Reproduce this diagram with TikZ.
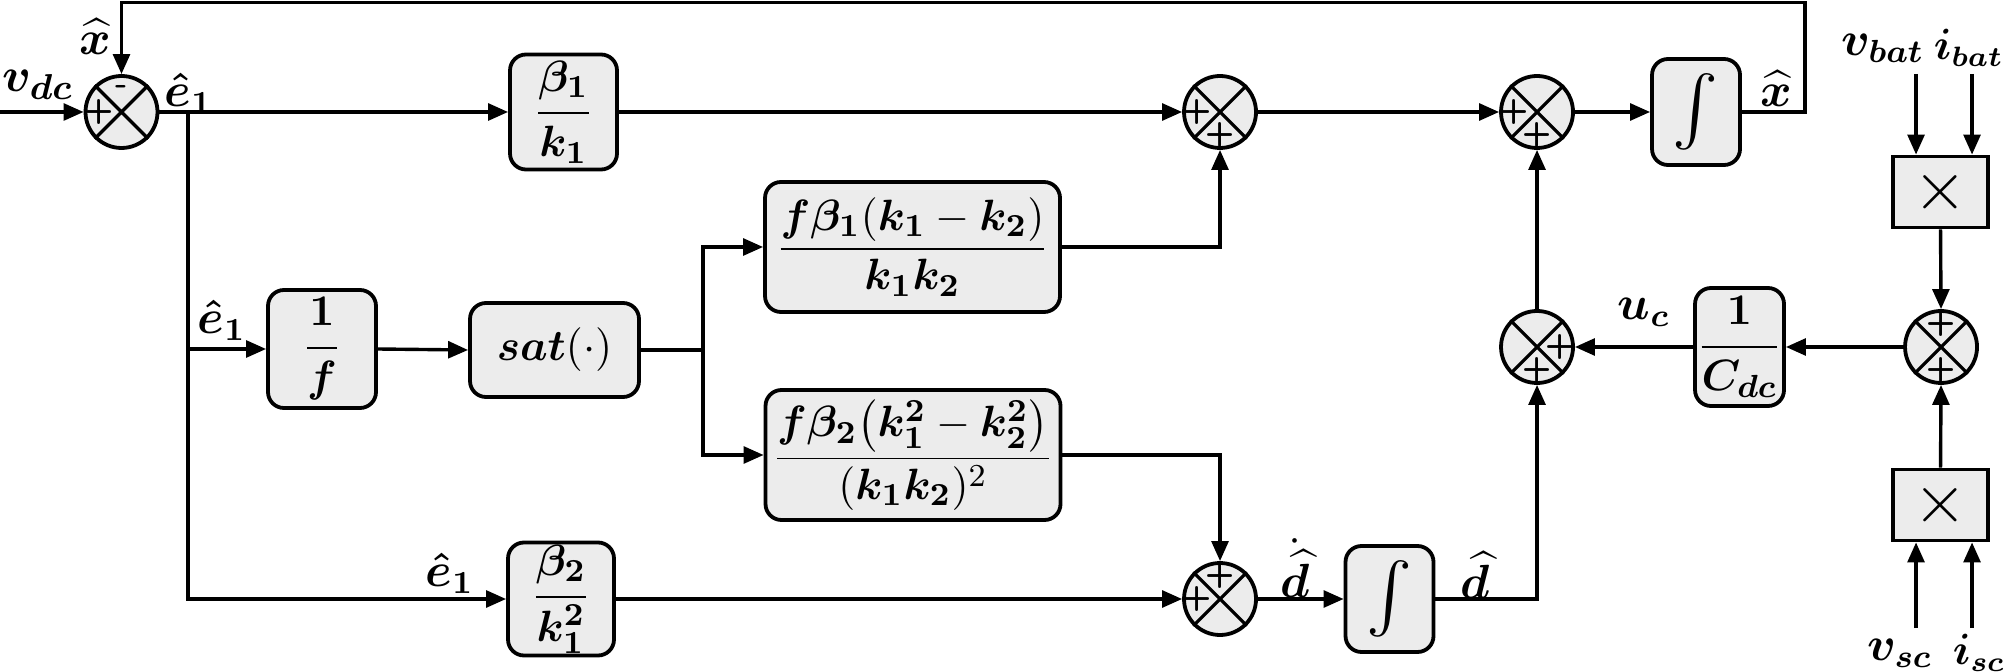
\documentclass[tikz,border=0pt]{standalone}
\usepackage{amsmath,bm}
\usetikzlibrary{arrows.meta,calc}
\definecolor{boxfill}{HTML}{ECECEC}
\tikzset{
 blk/.style={draw,line width=0.95pt,fill=boxfill,rounded corners=4pt,inner sep=0pt,font=\fontsize{11}{13}\selectfont},
 intblk/.style={blk,minimum width=22pt,minimum height=26.5pt,font=\fontsize{19}{21}\selectfont},
 mulbox/.style={draw,line width=0.95pt,fill=boxfill,inner sep=0pt,minimum width=23.75pt,minimum height=17.75pt,font=\fontsize{18}{18}\selectfont},
 sumc/.style={draw,circle,line width=0.95pt,fill=boxfill,minimum size=18pt,inner sep=0pt},
 wire/.style={line width=0.85pt},
 arr/.style={wire,-{Triangle[length=5pt,width=4.2pt]}},
 lbl/.style={font=\fontsize{12}{14}\selectfont,inner sep=0pt},
 biglbl/.style={font=\fontsize{11.5}{14}\selectfont,inner sep=0pt},
 ilbl/.style={font=\fontsize{10.5}{13}\selectfont,inner sep=0pt},
 sgn/.style={font=\fontsize{8.5}{9}\selectfont\bfseries\sffamily,inner sep=0pt},
}
\newcommand\sumjunc[2]{%
  \node[sumc] (#1) at (#2) {};
  \draw[line width=0.8pt] (#1.north east)--(#1.south west) (#1.north west)--(#1.south east);}
\begin{document}
\begin{tikzpicture}[x=0.25pt,y=-0.25pt]
\useasboundingbox (0,0) rectangle (2008,672);
% summing junctions
\sumjunc{s1}{121.5,112}
\sumjunc{s2}{1220,112}
\sumjunc{s3}{1537,112}
\sumjunc{s4}{1537,347}
\sumjunc{s5}{1220,599}
\sumjunc{s6}{1941,347}
% signs
\node[sgn] at ($(s1)+(-22,0)$) {+};
\node[sgn] at ($(s1)+(0,-22)$) {-};
\node[sgn] at ($(s2)+(-23,0)$) {+};
\node[sgn] at ($(s2)+(0,23)$) {+};
\node[sgn] at ($(s3)+(-23,0)$) {+};
\node[sgn] at ($(s3)+(0,23)$) {+};
\node[sgn] at ($(s4)+(23,0)$) {+};
\node[sgn] at ($(s4)+(0,23)$) {+};
\node[sgn] at ($(s5)+(-23,0)$) {+};
\node[sgn] at ($(s5)+(0,-23)$) {+};
\node[sgn] at ($(s6)+(0,-23)$) {+};
\node[sgn] at ($(s6)+(0,23)$) {+};
% blocks
\node[blk,minimum width=26.75pt,minimum height=28.75pt] (b1) at (563.5,112) {$\bm{\dfrac{\beta_1}{k_1}}$};
\node[blk,minimum width=27pt,minimum height=29.5pt] (f1) at (322,349) {$\bm{\dfrac{1}{f}}$};
\node[blk,minimum width=42.25pt,minimum height=23.5pt] (sat) at (554.5,350) {$\bm{sat}(\cdot)$};
\node[blk,minimum width=73.75pt,minimum height=32.5pt] (tm) at (912.5,247) {$\dfrac{\bm{f\beta_1}(\bm{k_1}-\bm{k_2})}{\bm{k_1k_2}}$};
\node[blk,minimum width=73.75pt,minimum height=32.5pt] (lm) at (913,455) {$\dfrac{\bm{f\beta_2}\bigl(\bm{k_1^2}-\bm{k_2^2}\bigr)}{(\bm{k_1k_2})^2}$};
\node[blk,minimum width=26.5pt,minimum height=28.25pt] (b2) at (561,599) {$\bm{\dfrac{\beta_2}{k_1^2}}$};
\node[intblk] (int1) at (1696,112) {$\int$};
\node[intblk] (int2) at (1389.5,599) {$\int$};
\node[blk,minimum width=22.25pt,minimum height=29.5pt] (cdc) at (1739.5,347) {$\bm{\dfrac{1}{C_{dc}}}$};
\node[mulbox] (m1) at (1940.5,192) {$\times$};
\node[mulbox] (m2) at (1940.5,505) {$\times$};
% coordinates
\coordinate (in) at (0,112);
\coordinate (br1) at (188,112);
\coordinate (br2) at (703,350);
\coordinate (fbr) at (1805,112);
\coordinate (ftop) at (1805,2.5);
\coordinate (vb) at (1916,74);
\coordinate (ib) at (1972,74);
\coordinate (vs) at (1916,628);
\coordinate (is) at (1972,628);
% connectors
\draw[arr] (in) -- (s1.west);
\draw[arr] (s1.east) -- (b1.west);
\draw[arr] (br1) |- (b2.west);
\draw[arr] (br1 |- f1.west) -- (f1.west);
\draw[arr] (f1.east) -- (sat.west);
\draw[wire] (sat.east) -- (br2);
\draw[arr] (br2) |- (tm.west);
\draw[arr] (br2) |- (lm.west);
\draw[arr] (b1.east) -- (s2.west);
\draw[arr] (tm.east) -| (s2.south);
\draw[arr] (lm.east) -| (s5.north);
\draw[arr] (b2.east) -- (s5.west);
\draw[arr] (s2.east) -- (s3.west);
\draw[arr] (s3.east) -- (int1.west);
\draw[arr] (int1.east) -- (fbr) -- (ftop) -| (s1.north);
\draw[arr] (s5.east) -- (int2.west);
\draw[arr] (int2.east) -| (s4.south);
\draw[arr] (s4.north) -- (s3.south);
\draw[arr] (cdc.west) -- (s4.east);
\draw[arr] (s6.west) -- (cdc.east);
\draw[arr] (m1.south) -- (s6.north);
\draw[arr] (m2.north) -- (s6.south);
\draw[arr] (vb) -- (vb |- m1.north);
\draw[arr] (ib) -- (ib |- m1.north);
\draw[arr] (vs) -- (vs |- m2.south);
\draw[arr] (is) -- (is |- m2.south);
% labels
\node[font=\fontsize{12.5}{14}\selectfont,inner sep=0pt] (lvdc) at (38,85) {$\bm{v_{dc}}$};
\node[lbl] (lx1) at (95,37) {$\widehat{\bm{x}}$};
\node[lbl] (le1) at (189,93) {$\bm{\hat e_1}$};
\node[lbl] (le2) at (222,320) {$\bm{\hat e_1}$};
\node[lbl] (le3) at (450,573) {$\bm{\hat e_1}$};
\node[lbl] (lx2) at (1776,89) {$\widehat{\bm{x}}$};
\node[lbl] (luc) at (1644,312) {$\bm{u_c}$};
\node[lbl] (ldd) at (1295,568) {$\dot{\widehat{\bm{d}}}$};
\node[lbl] (ld) at (1475,575) {$\widehat{\bm{d}}$};
\node[biglbl,anchor=east] (lvb) at (1925,48) {$\bm{v_{bat}}$};
\node[ilbl,anchor=west] (lib) at (1933,48) {$\bm{i_{bat}}$};
\node[biglbl] (lvs) at (1900,653) {$\bm{v_{sc}}$};
\node[ilbl,anchor=west] (lis) at (1952,653) {$\bm{i_{sc}}$};
\end{tikzpicture}
\end{document}
